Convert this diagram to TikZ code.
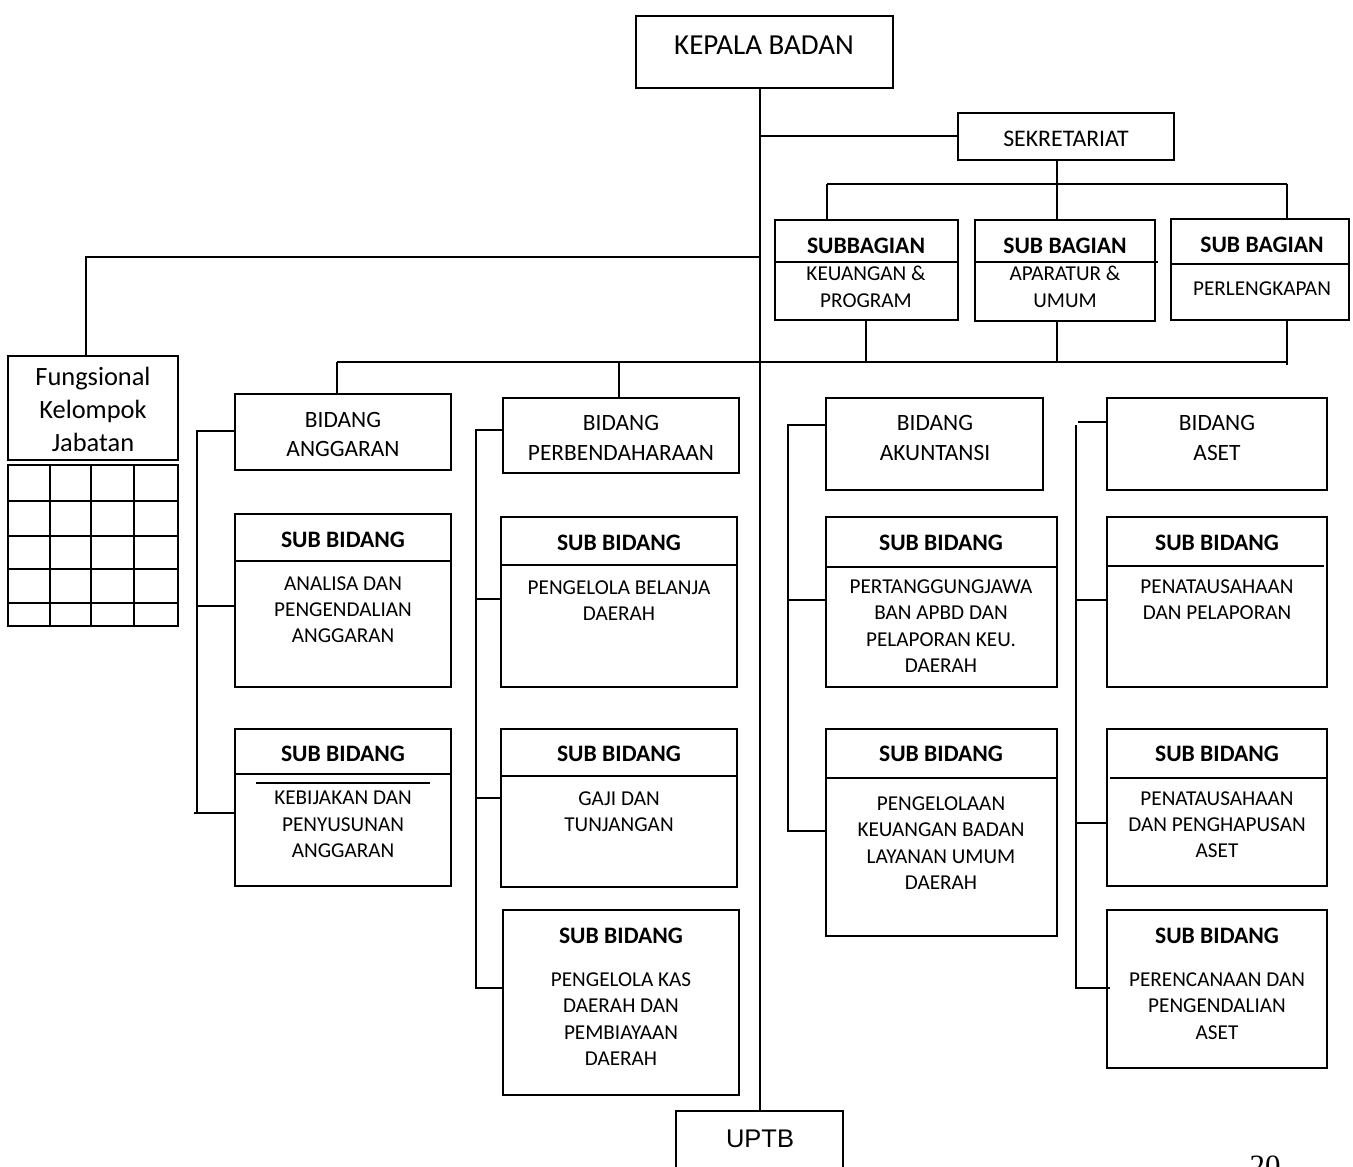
\documentclass[tikz,border=0pt]{standalone}
\usepackage{fontspec}
\setmainfont{Carlito}
\newfontfamily\arialf{Liberation Sans}
\newfontfamily\timesf{Liberation Serif}
\newcommand\bx[5]{\node[boxs, minimum width={(#4-(#2))*0.5pt}, minimum height={(#5-(#3))*0.5pt}, anchor=north west] (#1) at (#2,#3) {};}
\begin{document}
\begin{tikzpicture}[x=0.5pt,y=-0.5pt, line width=1pt,
 boxs/.style={draw, rectangle, inner sep=0pt, outer sep=0pt, line width=1pt},
 ttl/.style={font=\fontsize{11.8}{14}\selectfont\bfseries, inner sep=0pt},
 bod/.style={font=\fontsize{10.6}{13.15}\selectfont, align=center, inner sep=0pt},
 bid/.style={font=\fontsize{11.7}{14.8}\selectfont, align=center, inner sep=0pt},
]
\useasboundingbox (0,0) rectangle (1353,1166);
% ---- boxes
\bx{kepala}{636}{16}{893}{88}
\bx{sek}{958}{113}{1174}{160}
\bx{sbA}{775}{220}{958}{320}
\bx{sbB}{975}{220}{1155}{321}
\bx{sbC}{1171}{219}{1349}{320}
\bx{fk}{8}{356}{178}{460}
\bx{grid}{8}{465}{178}{626}
\bx{bidA}{235}{394}{451}{470}
\bx{subA1}{235}{514}{451}{687}
\bx{subA2}{235}{729}{451}{886}
\bx{bidP}{503}{398}{739}{473}
\bx{subP1}{501}{517}{737}{687}
\bx{subP2}{501}{729}{737}{887}
\bx{subP3}{503}{910}{739}{1095}
\bx{bidK}{826}{398}{1043}{490}
\bx{subK1}{826}{517}{1057}{687}
\bx{subK2}{826}{729}{1057}{936}
\bx{bidS}{1107}{398}{1327}{490}
\bx{subS1}{1107}{517}{1327}{687}
\bx{subS2}{1107}{729}{1327}{886}
\bx{subS3}{1107}{910}{1327}{1068}
\bx{uptb}{676}{1111}{843}{1200}
% ---- dividers inside boxes
\draw (775,262) -- (958,262);
\draw (975,262) -- (1158,262);
\draw (1171,264) -- (1349,264);
\draw (235,561) -- (451,561);
\draw (235,774) -- (451,774);
\draw (256,783) -- (430,783);
\draw (501,565) -- (737,565);
\draw (501,776) -- (737,776);
\draw (826,567) -- (1057,567);
\draw (826,778) -- (1057,778);
\draw (1107,566) -- (1324,566);
\draw (1110,778) -- (1327,778);
% ---- grid
\foreach \gx in {50,91,134} \draw (\gx,465) -- (\gx,626);
\foreach \gy in {501,536,569,603} \draw (8,\gy) -- (178,\gy);
% ---- connectors
\draw (kepala.south -| uptb.north) -- (uptb.north);
\draw (sek.west -| uptb.north) -- (sek.west);
\coordinate (sj) at (1057,184);
\coordinate (busA1) at (827,184);
\coordinate (busA2) at (1287,184);
\draw (sj |- sek.south) -- (sj);
\draw (busA1) -- (busA2);
\draw (busA1) -- (busA1 |- sbA.north);
\draw (sj) -- (sj |- sbB.north);
\draw (busA2) -- (busA2 |- sbC.north);
\coordinate (busB1) at (337,362);
\coordinate (busB2) at (1288,362);
\draw (busB1) -- (busB2);
\draw (866,0 |- sbA.south) -- (866,362);
\draw (1057,0 |- sbB.south) -- (1057,362);
\draw (1287,0 |- sbC.south) -- (1287,365);
\draw (busB1) -- (busB1 |- bidA.north);
\draw (619,362) -- (619,0 |- bidP.north);
\coordinate (fj) at (86,257);
\draw (fj -| uptb.north) -- (fj) -- (fj |- fk.north);
% column 1
\draw (bidA.west |- 0,431) -- (197,431) -- (197,813);
\draw (197,606) -- (subA1.west |- 0,606);
\draw (194,813) -- (subA2.west |- 0,813);
% column 2
\draw (bidP.west |- 0,430) -- (476,430) -- (476,988) -- (subP3.west |- 0,988);
\draw (475,599) -- (subP1.west |- 0,599);
\draw (476,798) -- (subP2.west |- 0,798);
% column 3
\draw (bidK.west |- 0,425) -- (788,425) -- (788,831) -- (subK2.west |- 0,831);
\draw (788,600) -- (subK1.west |- 0,600);
% column 4
\draw (bidS.west |- 0,422) -- (1078,422);
\draw (1076,425) -- (1076,988) -- (1110,988);
\draw (1076,600) -- (subS1.west |- 0,600);
\draw (1076,823) -- (subS2.west |- 0,823);
% ---- texts
\node[font=\fontsize{14.5}{17}\selectfont, inner sep=0pt] (tkep) at (764,45) {KEPALA BADAN};
\node[font=\fontsize{11.9}{14}\selectfont, inner sep=0pt] (tsek) at (1066,139) {SEKRETARIAT};
\node[ttl] (tA) at (866,246) {SUBBAGIAN};
\node[bod, font=\fontsize{10.6}{13.5}\selectfont] (tA2) at (866,286.5) {KEUANGAN \&\\PROGRAM};
\node[ttl] (tB) at (1065,246) {SUB BAGIAN};
\node[bod, font=\fontsize{10.6}{13.5}\selectfont] (tB2) at (1065,286.5) {APARATUR \&\\UMUM};
\node[ttl] (tC) at (1262,245) {SUB BAGIAN};
\node[bod] (tC2) at (1262,289) {PERLENGKAPAN};
\node[font=\fontsize{13.2}{16.5}\selectfont, align=center, inner sep=0pt] (tfk) at (93,409) {Fungsional\\Kelompok\\Jabatan};
\node[bid] (tbA) at (343,434.5) {BIDANG\\ANGGARAN};
\node[bid] (tbP) at (621,438) {BIDANG\\PERBENDAHARAAN};
\node[bid] (tbK) at (935,438) {BIDANG\\AKUNTANSI};
\node[bid] (tbS) at (1217,438) {BIDANG\\ASET};
% sub bidang titles
\node[ttl] (ta1) at (343,540) {SUB BIDANG};
\node[ttl] (ta2) at (343,754) {SUB BIDANG};
\node[ttl] (tp1) at (619,543) {SUB BIDANG};
\node[ttl] (tp2) at (619,754) {SUB BIDANG};
\node[ttl] (tp3) at (621,936) {SUB BIDANG};
\node[ttl] (tk1) at (941,543) {SUB BIDANG};
\node[ttl] (tk2) at (941,754) {SUB BIDANG};
\node[ttl] (ts1) at (1217,543) {SUB BIDANG};
\node[ttl] (ts2) at (1217,754) {SUB BIDANG};
\node[ttl] (ts3) at (1217,936) {SUB BIDANG};
% bodies
\node[bod] (ba1) at (343,609.5) {ANALISA DAN\\PENGENDALIAN\\ANGGARAN};
\node[bod] (ba2) at (343,824.5) {KEBIJAKAN DAN\\PENYUSUNAN\\ANGGARAN};
\node[bod] (bp1) at (619,600.5) {PENGELOLA BELANJA\\DAERAH};
\node[bod] (bp2) at (619,811.5) {GAJI DAN\\TUNJANGAN};
\node[bod] (bp3) at (621,1019) {PENGELOLA KAS\\DAERAH DAN\\PEMBIAYAAN\\DAERAH};
\node[bod] (bk1) at (941,626) {PERTANGGUNGJAWA\\BAN APBD DAN\\PELAPORAN KEU.\\DAERAH};
\node[bod] (bk2) at (941,843) {PENGELOLAAN\\KEUANGAN BADAN\\LAYANAN UMUM\\DAERAH};
\node[bod] (bs1) at (1217,600) {PENATAUSAHAAN\\DAN PELAPORAN};
\node[bod] (bs2) at (1217,824.5) {PENATAUSAHAAN\\DAN PENGHAPUSAN\\ASET};
\node[bod] (bs3) at (1217,1006) {PERENCANAAN DAN\\PENGENDALIAN\\ASET};
\node[font=\arialf\fontsize{12.75}{15}\selectfont, inner sep=0pt] (tup) at (760,1139) {UPTB};
\node[font=\timesf\fontsize{15.5}{18}\selectfont, inner sep=0pt, anchor=north] (pg) at (1265,1155) {20};
\end{tikzpicture}
\end{document}
